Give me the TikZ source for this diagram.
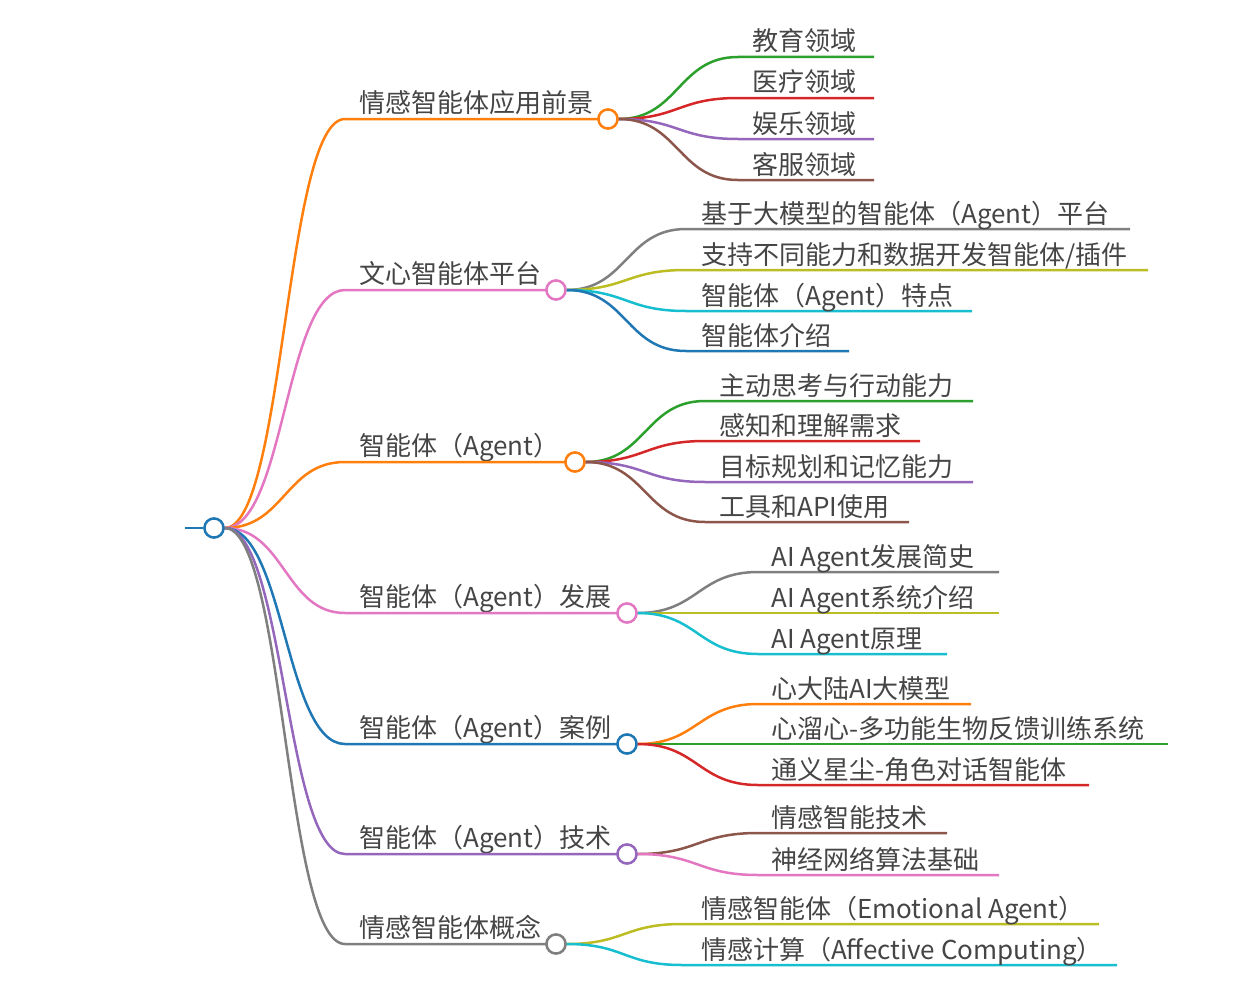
\documentclass[tikz,border=0pt]{standalone}
\usepackage{fontspec}
\setmainfont{Noto Sans CJK SC}
\usetikzlibrary{calc}
\definecolor{cblue}{HTML}{1F77B4}
\definecolor{corange}{HTML}{FF7F0E}
\definecolor{cgreen}{HTML}{2CA02C}
\definecolor{cred}{HTML}{D62728}
\definecolor{cpurple}{HTML}{9467BD}
\definecolor{cbrown}{HTML}{8C564B}
\definecolor{cpink}{HTML}{E377C2}
\definecolor{cgray}{HTML}{7F7F7F}
\definecolor{colive}{HTML}{BCBD22}
\definecolor{ccyan}{HTML}{17BECF}
\definecolor{txt}{HTML}{454545}
\tikzset{
  dot/.style={circle, line width=2.4pt, fill=white, minimum size=19pt, inner sep=0pt},
  conn/.style={line width=2.5pt},
  lbl/.style={anchor=base west, inner sep=0pt, text=txt, font=\fontsize{26}{30}\selectfont},
}
\begin{document}
\begin{tikzpicture}[x=1pt,y=-1pt]
\useasboundingbox (0,0) rectangle (1258,990);
% root
\coordinate (r0) at (185,528);
\node[dot, draw=cblue] (root) at (214,528) {};
\draw[conn, cblue] (r0) -- (root.west);

% level 1 coordinates
\coordinate (h1) at (345,119);
\coordinate (h2) at (345,290);
\coordinate (h3) at (345,462);
\coordinate (h4) at (345,613);
\coordinate (h5) at (345,744);
\coordinate (h6) at (345,854);
\coordinate (h7) at (345,944);

% level 1 labels
\node[lbl] (t1) at (359,112) {情感智能体应用前景};
\node[lbl] (t2) at (359,283) {文心智能体平台};
\node[lbl] (t3) at (359,455) {智能体（Agent）};
\node[lbl] (t4) at (359,606) {智能体（Agent）发展};
\node[lbl] (t5) at (359,737) {智能体（Agent）案例};
\node[lbl] (t6) at (359,847) {智能体（Agent）技术};
\node[lbl] (t7) at (359,937) {情感智能体概念};

% level 1 connectors
\draw[conn, corange] (root.east) .. controls +(60,0) and +(-60,0) .. (h1) -- (608,119);
\draw[conn, cpink]   (root.east) .. controls +(60,0) and +(-60,0) .. (h2) -- (556,290);
\draw[conn, corange] (root.east) .. controls +(60,0) and +(-60,0) .. (h3) -- (575,462);
\draw[conn, cpink]   (root.east) .. controls +(60,0) and +(-60,0) .. (h4) -- (627,613);
\draw[conn, cblue]   (root.east) .. controls +(60,0) and +(-60,0) .. (h5) -- (627,744);
\draw[conn, cpurple] (root.east) .. controls +(60,0) and +(-60,0) .. (h6) -- (627,854);
\draw[conn, cgray]   (root.east) .. controls +(60,0) and +(-60,0) .. (h7) -- (556,944);
\node[dot, draw=cblue] (root2) at (214,528) {};

% branch 1
\coordinate (a1s) at (738,57);  \coordinate (a1e) at (874,57);
\coordinate (a2s) at (738,98);  \coordinate (a2e) at (874,98);
\coordinate (a3s) at (738,139); \coordinate (a3e) at (874,139);
\coordinate (a4s) at (738,180); \coordinate (a4e) at (874,180);
\node[dot, draw=corange] (b1) at (608,119) {};
\draw[conn, cgreen]  (b1.east) .. controls +(60,0) and +(-60,0) .. (a1s) -- (a1e);
\draw[conn, cred]    (b1.east) .. controls +(60,0) and +(-60,0) .. (a2s) -- (a2e);
\draw[conn, cpurple] (b1.east) .. controls +(60,0) and +(-60,0) .. (a3s) -- (a3e);
\draw[conn, cbrown]  (b1.east) .. controls +(60,0) and +(-60,0) .. (a4s) -- (a4e);
\node[dot, draw=corange] at (608,119) {};
\node[lbl] (ta1) at (752,51) {教育领域};
\node[lbl] (ta2) at (752,92) {医疗领域};
\node[lbl] (ta3) at (752,133) {娱乐领域};
\node[lbl] (ta4) at (752,174) {客服领域};

% branch 2
\coordinate (p1s) at (686,229); \coordinate (p1e) at (1130,229);
\coordinate (p2s) at (686,270); \coordinate (p2e) at (1148,270);
\coordinate (p3s) at (686,311); \coordinate (p3e) at (972,311);
\coordinate (p4s) at (686,351); \coordinate (p4e) at (849,351);
\node[dot, draw=cpink] (b2) at (556,290) {};
\draw[conn, cgray]  (b2.east) .. controls +(60,0) and +(-60,0) .. (p1s) -- (p1e);
\draw[conn, colive] (b2.east) .. controls +(60,0) and +(-60,0) .. (p2s) -- (p2e);
\draw[conn, ccyan]  (b2.east) .. controls +(60,0) and +(-60,0) .. (p3s) -- (p3e);
\draw[conn, cblue]  (b2.east) .. controls +(60,0) and +(-60,0) .. (p4s) -- (p4e);
\node[dot, draw=cpink] at (556,290) {};
\node[lbl] (tp1) at (701,223) {基于大模型的智能体（Agent）平台};
\node[lbl] (tp2) at (701,264) {支持不同能力和数据开发智能体/插件};
\node[lbl] (tp3) at (701,305) {智能体（Agent）特点};
\node[lbl] (tp4) at (701,345) {智能体介绍};

% branch 3
\coordinate (q1s) at (705,401); \coordinate (q1e) at (973,401);
\coordinate (q2s) at (705,441); \coordinate (q2e) at (920,441);
\coordinate (q3s) at (705,482); \coordinate (q3e) at (973,482);
\coordinate (q4s) at (705,522); \coordinate (q4e) at (909,522);
\node[dot, draw=corange] (b3) at (575,462) {};
\draw[conn, cgreen]  (b3.east) .. controls +(60,0) and +(-60,0) .. (q1s) -- (q1e);
\draw[conn, cred]    (b3.east) .. controls +(60,0) and +(-60,0) .. (q2s) -- (q2e);
\draw[conn, cpurple] (b3.east) .. controls +(60,0) and +(-60,0) .. (q3s) -- (q3e);
\draw[conn, cbrown]  (b3.east) .. controls +(60,0) and +(-60,0) .. (q4s) -- (q4e);
\node[dot, draw=corange] at (575,462) {};
\node[lbl] (tq1) at (719,395) {主动思考与行动能力};
\node[lbl] (tq2) at (719,435) {感知和理解需求};
\node[lbl] (tq3) at (719,476) {目标规划和记忆能力};
\node[lbl] (tq4) at (719,516) {工具和API使用};

% branch 4
\coordinate (s1s) at (758,572); \coordinate (s1e) at (999,572);
\coordinate (s2s) at (758,613); \coordinate (s2e) at (999,613);
\coordinate (s3s) at (758,654); \coordinate (s3e) at (947,654);
\node[dot, draw=cpink] (b4) at (627,613) {};
\draw[conn, cgray]  (b4.east) .. controls +(60,0) and +(-60,0) .. (s1s) -- (s1e);
\draw[conn, colive] (b4.east) -- (s2s) -- (s2e);
\draw[conn, ccyan]  (b4.east) .. controls +(60,0) and +(-60,0) .. (s3s) -- (s3e);
\node[dot, draw=cpink] at (627,613) {};
\node[lbl] (ts1) at (771,566) {AI Agent发展简史};
\node[lbl] (ts2) at (771,607) {AI Agent系统介绍};
\node[lbl] (ts3) at (771,648) {AI Agent原理};

% branch 5
\coordinate (u1s) at (758,704); \coordinate (u1e) at (971,704);
\coordinate (u2s) at (758,744); \coordinate (u2e) at (1168,744);
\coordinate (u3s) at (758,785); \coordinate (u3e) at (1089,785);
\node[dot, draw=cblue] (b5) at (627,744) {};
\draw[conn, corange] (b5.east) .. controls +(60,0) and +(-60,0) .. (u1s) -- (u1e);
\draw[conn, cgreen]  (b5.east) -- (u2s) -- (u2e);
\draw[conn, cred]    (b5.east) .. controls +(60,0) and +(-60,0) .. (u3s) -- (u3e);
\node[dot, draw=cblue] at (627,744) {};
\node[lbl] (tu1) at (771,698) {心大陆AI大模型};
\node[lbl] (tu2) at (771,738) {心溜心-多功能生物反馈训练系统};
\node[lbl] (tu3) at (771,779) {通义星尘-角色对话智能体};

% branch 6
\coordinate (v1s) at (758,833); \coordinate (v1e) at (947,833);
\coordinate (v2s) at (758,875); \coordinate (v2e) at (999,875);
\node[dot, draw=cpurple] (b6) at (627,854) {};
\draw[conn, cbrown] (b6.east) .. controls +(60,0) and +(-60,0) .. (v1s) -- (v1e);
\draw[conn, cpink]  (b6.east) .. controls +(60,0) and +(-60,0) .. (v2s) -- (v2e);
\node[dot, draw=cpurple] at (627,854) {};
\node[lbl] (tv1) at (771,827) {情感智能技术};
\node[lbl] (tv2) at (771,869) {神经网络算法基础};

% branch 7
\coordinate (w1s) at (682,924); \coordinate (w1e) at (1099,924);
\coordinate (w2s) at (682,965); \coordinate (w2e) at (1117,965);
\node[dot, draw=cgray] (b7) at (556,944) {};
\draw[conn, colive] (b7.east) .. controls +(58,0) and +(-58,0) .. (w1s) -- (w1e);
\draw[conn, ccyan]  (b7.east) .. controls +(58,0) and +(-58,0) .. (w2s) -- (w2e);
\node[dot, draw=cgray] at (556,944) {};
\node[lbl] (tw1) at (701,918) {情感智能体（Emotional Agent）};
\node[lbl] (tw2) at (701,959) {情感计算（Affective Computing）};
\end{tikzpicture}
\end{document}
